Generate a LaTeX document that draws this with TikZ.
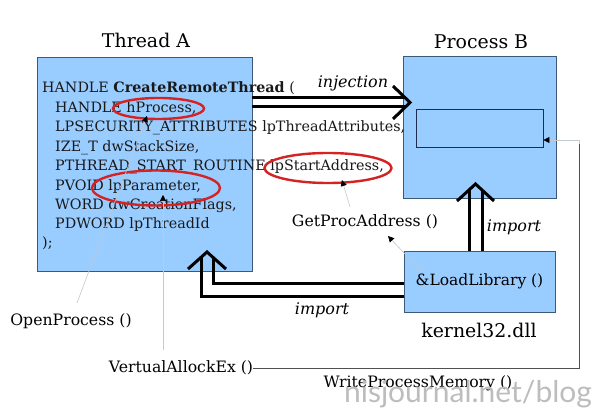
\documentclass[tikz,border=0pt]{standalone}
\usepackage{fontspec}
\setmainfont{DejaVu Serif}
\newfontfamily\wmfont{Lato}
\usetikzlibrary{arrows.meta,shapes.geometric}
\definecolor{boxfill}{HTML}{99CCFF}
\definecolor{boxline}{HTML}{3C5A78}
\definecolor{innerline}{HTML}{1E2E4A}
\definecolor{ringred}{HTML}{D42323}
\definecolor{faint}{HTML}{C4C8D0}
\definecolor{wpm}{HTML}{505050}
\definecolor{wm}{HTML}{BDBDBD}
\begin{document}
\begin{tikzpicture}[x=1pt,y=-1pt,
  box/.style={draw=boxline, fill=boxfill, line width=0.8pt, rectangle, inner sep=0pt},
  code/.style={anchor=base west, inner sep=0pt, text=black!90, font=\fontsize{14.3}{16}\selectfont},
  lbl/.style={inner sep=0pt, font=\fontsize{15.7}{18}\selectfont},
  ilbl/.style={inner sep=0pt, font=\fontsize{16}{18}\selectfont\itshape},
  ttl/.style={inner sep=0pt, font=\fontsize{18.9}{21}\selectfont},
  ring/.style={draw=ringred, line width=2.4pt, ellipse, inner sep=0pt},
  fat/.style={line width=3pt, line cap=butt, line join=miter},
  ptr/.style={draw=faint, line width=0.6pt, -{Triangle[length=6pt,width=6pt,color=black,fill=black]}},
  wpmline/.style={draw=wpm, line width=0.8pt}
]
\useasboundingbox (0,0) rectangle (600,411);
\fill[white] (0,0) rectangle (600,411);

% boxes
\node[box, minimum width=215pt, minimum height=214pt] (tA) at (144.5,164) {};
\node[box, minimum width=153pt, minimum height=142pt] (pB) at (479.5,127) {};
\node[box, draw=innerline, minimum width=127pt, minimum height=38pt] (mem) at (479.5,128) {};
\node[box, minimum width=151pt, minimum height=61pt, font=\fontsize{15.5}{17}\selectfont] (k32) at (479.5,281.5) {\&LoadLibrary ()};

% titles
\node[ttl] (tAt) at (146,40) {Thread A};
\node[ttl] (pBt) at (481,42) {Process B};
\node[ttl] (k32t) at (479,330) {kernel32.dll};

% code
\node[code] (c1) at (42,93) {HANDLE \textbf{CreateRemoteThread} (};
\node[code] (c2) at (55,113) {HANDLE hProcess,};
\node[code] (c3) at (55,132) {LPSECURITY\_ATTRIBUTES lpThreadAttributes,};
\node[code] (c4) at (55,152) {IZE\_T dwStackSize,};
\node[code] (c5) at (55,171) {PTHREAD\_START\_ROUTINE lpStartAddress,};
\node[code] (c6) at (55,191) {PVOID lpParameter,};
\node[code] (c7) at (55,210) {WORD dwCreationFlags,};
\node[code] (c8) at (55,229) {PDWORD lpThreadId};
\node[code] (c9) at (42,248) {);};

% red rings
\node[ring, minimum width=91pt, minimum height=21pt] (r1) at (158.5,108.5) {};
\node[ring, minimum width=128pt, minimum height=35pt] (r2) at (156,188) {};
\node[ring, minimum width=127pt, minimum height=30pt] (r3) at (328,168) {};

% outside labels
\node[lbl] (op) at (71,321) {OpenProcess ()};
\node[lbl] (va) at (181,368) {VertualAllockEx ()};
\node[lbl] (gp) at (365,222) {GetProcAddress ()};
\node[lbl] (wp) at (418,383) {WriteProcessMemory ()};
\node[ilbl] (inj) at (353,83) {injection};
\node[ilbl] (imp1) at (322,310) {import};
\node[ilbl] (imp2) at (514,227) {import};

% injection arrow (double line)
\draw[fat] (tA.east |- 0,98) -- (405.5,98);
\draw[fat] (tA.east |- 0,107) -- (405.5,107);
\draw[fat] (393,86) -- (410,102.5) -- (393,119);

% import arrow up to Process B
\draw[fat] (k32.north -| 469,0) -- (469,190);
\draw[fat] (k32.north -| 482,0) -- (482,190);
\draw[fat] (457,201) -- (475.5,184) -- (494,201);

% import arrow to Thread A
\draw[fat] (k32.west |- 0,297) -- (201,297) -- (201,257);
\draw[fat] (k32.west |- 0,284) -- (213,284) -- (213,257);
\draw[fat] (188,269) -- (207,252) -- (226,269);

% pointer lines
\coordinate (opend) at (77,303);
\coordinate (vaend) at (163,350);
\coordinate (gpend) at (350,207);
\coordinate (llend) at (422,272);
\draw[ptr] (opend) -- (147,116);
\draw[ptr] (vaend) -- (163,195);
\draw[ptr] (gpend) -- (342,180);
\draw[ptr] (llend) -- (388,236);

% WriteProcessMemory connector
\coordinate (wcorner1) at (579,368);
\coordinate (wcorner2) at (579,144);
\draw[wpmline] (va.east) -- (wcorner1) -- (wcorner2);
\draw[ptr] (wcorner2) -- (579,140) -- (mem.east |- 0,140);

% watermark
\node[inner sep=0pt, text=wm, font=\wmfont\fontsize{30}{32}\selectfont] (wmk) at (468,394) {nisjournal.net/blog};
\end{tikzpicture}
\end{document}
